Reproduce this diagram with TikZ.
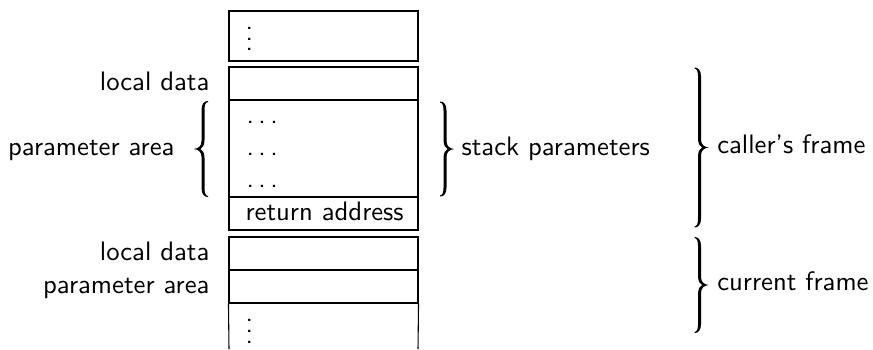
\documentclass[tikz,border=0pt]{standalone}
\usetikzlibrary{fit}
\newcommand{\bracefill}[1]{%
  \pgfmathsetmacro{\bH}{#1}\pgfmathsetmacro{\bh}{#1/2}%
  \fill (0,0) .. controls (3.5,0) and (6.5,2.5) .. (6.5,9)
   -- (6.5,\bh-8) .. controls (6.5,\bh-3) and (9.5,\bh-0.6) .. (14,\bh)
   .. controls (9.5,\bh+0.6) and (6.5,\bh+3) .. (6.5,\bh+8)
   -- (6.5,\bH-9) .. controls (6.5,\bH-2.5) and (3.5,\bH) .. (0,\bH)
   -- (0,\bH-1) .. controls (2.5,\bH-1.2) and (3.5,\bH-4) .. (3.5,\bH-9)
   -- (3.5,\bh+9) .. controls (3.5,\bh+3.5) and (5.5,\bh+1) .. (7.5,\bh)
   .. controls (5.5,\bh-1) and (3.5,\bh-3.5) .. (3.5,\bh-9)
   -- (3.5,9) .. controls (3.5,4) and (2.5,1.2) .. (0,1) -- cycle;}
\newcommand{\threedots}{.\kern1.7pt.\kern1.7pt.}
\begin{document}
\begin{tikzpicture}[x=0.3745pt,y=-0.3745pt,
  box/.style={draw, line width=0.4pt, inner sep=0pt},
  rule/.style={line width=0.4pt},
  txt/.style={font=\sffamily, inner sep=0pt}]
\useasboundingbox (0,0) rectangle (873,349);
% top box
\node[box, fit={(229,11) (418,61)}] (topbox) {};
\node[txt, anchor=base west] (topdots) at (245,50.8) {\vdots};
% caller block
\node[box, fit={(229,67) (418,230)}] (caller) {};
\coordinate (l1a) at (229,100);
\coordinate (l1b) at (418,100);
\coordinate (l2a) at (229,197);
\coordinate (l2b) at (418,197);
\draw[rule] (l1a) -- (l1b);
\draw[rule] (l2a) -- (l2b);
\node[txt, anchor=base west] (p1) at (246,123.8) {\threedots};
\node[txt, anchor=base west] (p2) at (246,155.5) {\threedots};
\node[txt, anchor=base west] (p3) at (246,187.2) {\threedots};
\node[txt, anchor=base west] (ret) at (245,220.4) {return address};
% current block
\node[box, fit={(229,237) (418,303)}] (current) {};
\coordinate (l3a) at (229,270);
\coordinate (l3b) at (418,270);
\draw[rule] (l3a) -- (l3b);
\coordinate (b1) at (229,349);
\coordinate (b2) at (418,349);
\draw[rule] (current.south west) -- (b1);
\draw[rule] (current.south east) -- (b2);
\node[txt, anchor=base west] (botdots) at (245,343) {\vdots};
% left labels
\node[txt, anchor=base east] (ld1) at (210,90.4) {local data};
\node[txt, anchor=base east] (pa1) at (175,155.5) {parameter area};
\begin{scope}[shift={(208,101)}, xscale=-1]\bracefill{96}\end{scope}
\node[txt, anchor=base east] (ld2) at (210,260.4) {local data};
\node[txt, anchor=base east] (pa2) at (210,293.4) {parameter area};
% right braces
\begin{scope}[shift={(440,101.5)}]\bracefill{95}\end{scope}
\node[txt, anchor=base west] (sp) at (461,155) {stack parameters};
\begin{scope}[shift={(694.5,67.5)}]\bracefill{160}\end{scope}
\node[txt, anchor=base west] (cf) at (716.7,153.5) {caller's frame};
\begin{scope}[shift={(694.5,237)}]\bracefill{96}\end{scope}
\node[txt, anchor=base west] (kf) at (716.7,290.8) {current frame};
\end{tikzpicture}
\end{document}
